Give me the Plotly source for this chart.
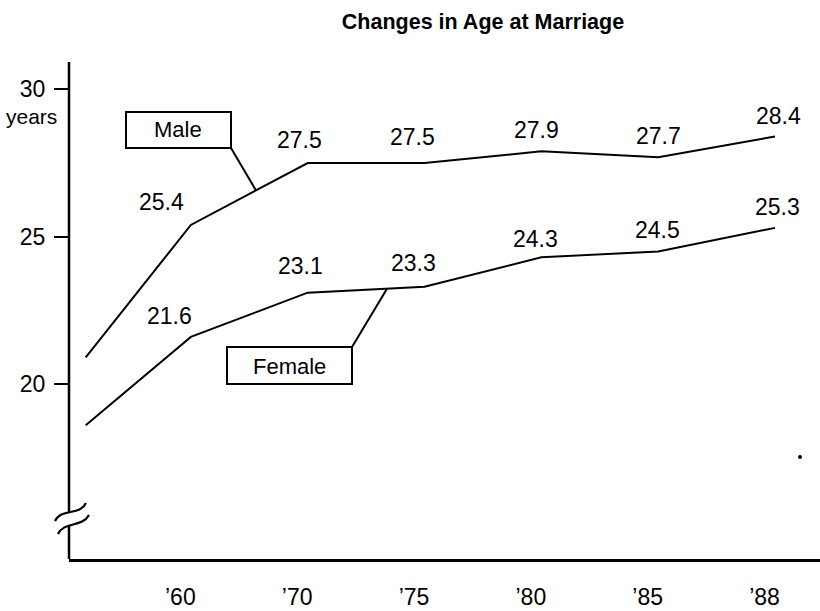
import numpy as np
import plotly.graph_objects as go

# ---- data ----
years = ["’60", "’70", "’75", "’80", "’85", "’88"]
male = [25.4, 27.5, 27.5, 27.9, 27.7, 28.4]
female = [21.6, 23.1, 23.3, 24.3, 24.5, 25.3]
male_start = 20.9     # unlabeled leading point
female_start = 18.6   # unlabeled leading point
y_ticks = [20, 25, 30]

# ---- layout geometry (pixels) ----
W_FIG, H_FIG = 820, 611
L, R, T, B = 69, 0, 62, 52
PW = W_FIG - L - R
PH = H_FIG - T - B
XR = [-1.043, 5.385]
YR = [14.06, 30.93]
FONT = "Liberation Sans, Arial, Helvetica, sans-serif"

def px2x(px):
    return XR[0] + (px - L) / PW * (XR[1] - XR[0])

def py2y(py):
    return YR[0] + (T + PH - py) / PH * (YR[1] - YR[0])

def ppx(px):
    return (px - L) / PW

def ppy(py):
    return (T + PH - py) / PH

idx = list(range(len(years)))
start_x = -0.9
xs = [start_x] + idx

fig = go.Figure()
fig.add_trace(go.Scatter(x=xs, y=[male_start] + male, mode="lines",
                         line=dict(color="black", width=2), hoverinfo="skip"))
fig.add_trace(go.Scatter(x=xs, y=[female_start] + female, mode="lines",
                         line=dict(color="black", width=2), hoverinfo="skip"))

# value labels
male_off = [(-29, 23), (-8, 23), (-12, 26), (-5, 21), (0, 21), (3, 21)]
female_off = [(-21, 21), (-7, 27), (-11, 24), (-6, 18), (-1, 21), (2, 21)]
LBL = dict(size=23, family=FONT, color="black")
ann = []
for i, v in enumerate(male):
    ann.append(dict(x=i, y=v, text=f"{v:.1f}", showarrow=False, xshift=male_off[i][0],
                    yshift=male_off[i][1], font=LBL, xanchor="center", yanchor="middle"))
for i, v in enumerate(female):
    ann.append(dict(x=i, y=v, text=f"{v:.1f}", showarrow=False, xshift=female_off[i][0],
                    yshift=female_off[i][1], font=LBL, xanchor="center", yanchor="middle"))

# legend box texts
ann.append(dict(xref="paper", yref="paper", x=ppx(178), y=ppy(129), text="Male", showarrow=False,
                xanchor="center", yanchor="middle",
                font=dict(size=22, family=FONT, color="black")))
ann.append(dict(xref="paper", yref="paper", x=ppx(289), y=ppy(366), text="Female", showarrow=False,
                xanchor="center", yanchor="middle",
                font=dict(size=22, family=FONT, color="black")))
# "years"
ann.append(dict(xref="paper", yref="paper", x=ppx(31), y=ppy(116), text="years", showarrow=False,
                xanchor="center", yanchor="middle",
                font=dict(size=21, family=FONT, color="black")))

shapes = []
# boxes
shapes.append(dict(type="rect", xref="x", yref="y", x0=px2x(126), x1=px2x(231),
                   y0=py2y(112), y1=py2y(148), line=dict(color="black", width=2)))
shapes.append(dict(type="rect", xref="x", yref="y", x0=px2x(227), x1=px2x(352),
                   y0=py2y(347), y1=py2y(384), line=dict(color="black", width=2)))
# leader lines to the data lines
mx = px2x(256)
my = float(np.interp(mx, xs, [male_start] + male))
shapes.append(dict(type="line", xref="x", yref="y", x0=px2x(231), y0=py2y(148), x1=mx, y1=my,
                   line=dict(color="black", width=2)))
fx = px2x(387)
fy = float(np.interp(fx, xs, [female_start] + female))
shapes.append(dict(type="line", xref="x", yref="y", x0=px2x(352), y0=py2y(347), x1=fx, y1=fy,
                   line=dict(color="black", width=2)))

# broken y axis
shapes.append(dict(type="line", xref="paper", yref="paper", x0=0, x1=0, y0=ppy(512), y1=1,
                   line=dict(color="black", width=2.5)))
shapes.append(dict(type="line", xref="paper", yref="paper", x0=0, x1=0, y0=0, y1=ppy(526),
                   line=dict(color="black", width=2.5)))

def wave(p0, c1, c2, p1):
    return (f"M {ppx(p0[0])},{ppy(p0[1])} C {ppx(c1[0])},{ppy(c1[1])} "
            f"{ppx(c2[0])},{ppy(c2[1])} {ppx(p1[0])},{ppy(p1[1])}")

shapes.append(dict(type="path", xref="paper", yref="paper",
                   path=wave((55, 521), (61, 508), (80, 516), (86, 503)),
                   line=dict(color="black", width=2.2)))
shapes.append(dict(type="path", xref="paper", yref="paper",
                   path=wave((58, 534), (64, 521), (82, 528), (89, 515)),
                   line=dict(color="black", width=2.2)))
# stray dot
shapes.append(dict(type="circle", xref="paper", yref="paper", x0=ppx(798), x1=ppx(802),
                   y0=ppy(459), y1=ppy(455), fillcolor="black", line=dict(width=0)))

fig.update_layout(
    width=W_FIG, height=H_FIG,
    margin=dict(l=L, r=R, t=T, b=B, autoexpand=False),
    paper_bgcolor="white", plot_bgcolor="white",
    showlegend=False,
    title=dict(text="<b>Changes in Age at Marriage</b>", x=483 / W_FIG, xanchor="center",
               y=1 - 21 / H_FIG, yanchor="middle",
               font=dict(size=21.5, family=FONT, color="black")),
    annotations=ann, shapes=shapes,
    xaxis=dict(range=XR, tickvals=[i - 0.09 for i in idx], ticktext=years, ticks="",
               showline=True, linewidth=2.5, linecolor="black", showgrid=False, zeroline=False,
               tickfont=dict(size=23, family=FONT, color="black"), ticklabelstandoff=16,
               fixedrange=True),
    yaxis=dict(range=YR, tickvals=y_ticks, ticktext=[str(t) for t in y_ticks], ticks="outside",
               ticklen=14, tickwidth=2, tickcolor="black", showline=False, showgrid=False,
               zeroline=False, tickfont=dict(size=23, family=FONT, color="black"),
               ticklabelstandoff=4, fixedrange=True),
)

fig.write_html("out.html", config={"displayModeBar": False},
               post_script="document.body.style.margin='0';")
